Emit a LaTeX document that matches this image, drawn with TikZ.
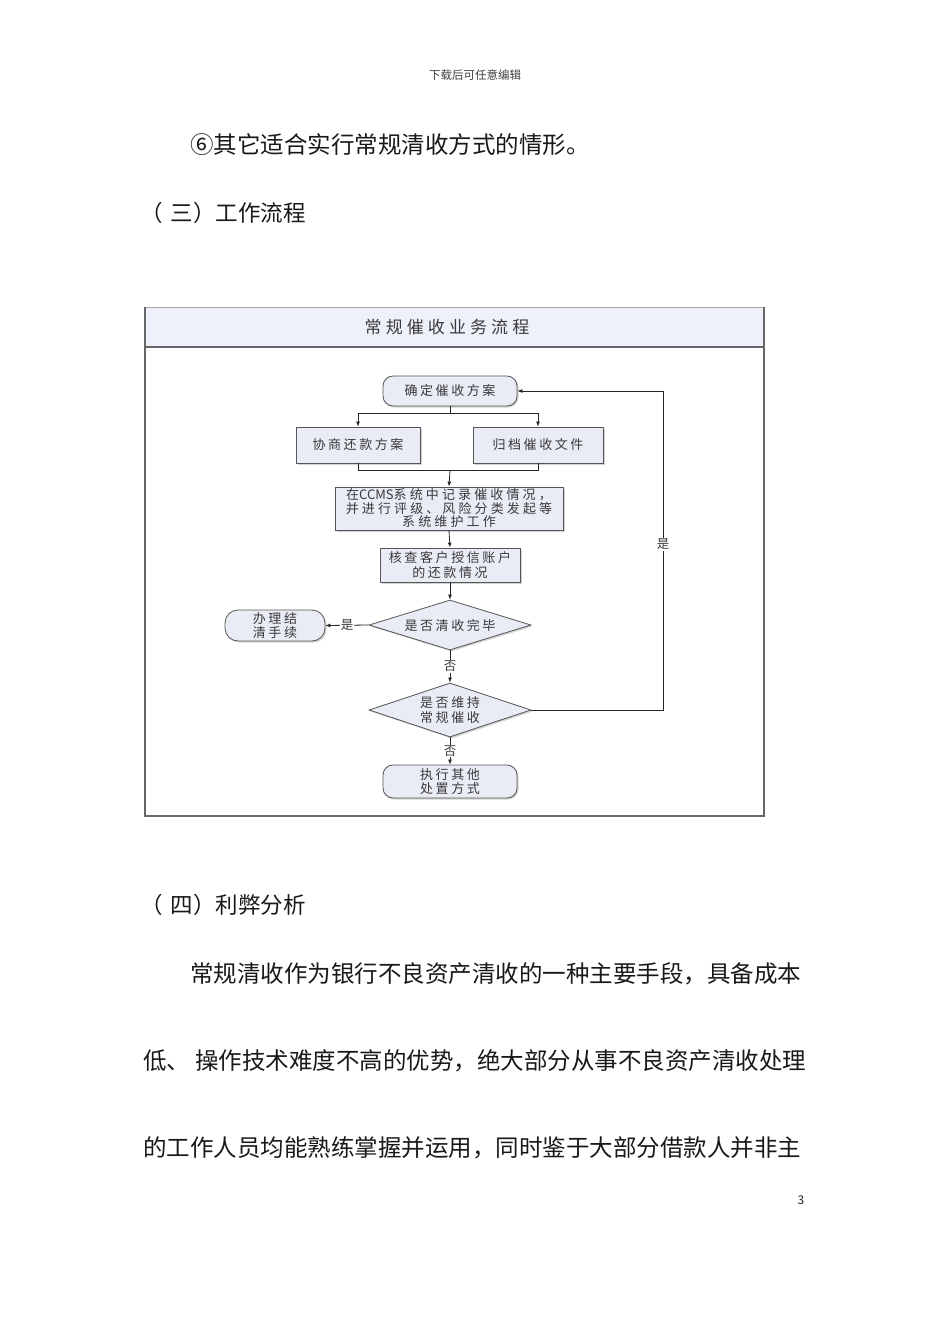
\documentclass[tikz,border=0pt]{standalone}
\usepackage{fontspec}
\setmainfont{Noto Sans CJK SC}
\newfontfamily\cjk{Noto Sans CJK SC}
\newfontfamily\dg[LetterSpace=20]{Noto Sans CJK SC}
\newfontfamily\dgw[LetterSpace=24]{Noto Sans CJK SC}
\newfontfamily\dglat{Noto Sans CJK SC}
\usetikzlibrary{shapes.geometric,arrows.meta,shadows}
\definecolor{boxfill}{HTML}{E9EBF5}
\definecolor{bandfill}{HTML}{EEF0FA}
\definecolor{boxline}{HTML}{555555}
\definecolor{dtext}{HTML}{3A3A3A}
\definecolor{frameline}{HTML}{666666}
\tikzset{
  body/.style={anchor=west, inner sep=0, font=\cjk\fontsize{23.5}{26}\selectfont, text=black!90},
  dnode/.style={draw=boxline, fill=boxfill, line width=0.8pt, align=center, inner sep=0pt,
    font=\dg\fontsize{13}{15}\selectfont, text=dtext,
    drop shadow={shadow xshift=1.5pt, shadow yshift=-1.5pt, fill=black!35}},
  sbox/.style={dnode},
  rbox/.style={dnode, rounded corners=10pt},
  dia/.style={dnode, diamond, aspect=3.2, inner sep=0pt, minimum width=162pt, minimum height=50pt},
  arr/.style={draw=black!85, line width=0.8pt, -{Latex[length=5pt,width=4pt]}},
  ln/.style={draw=black!85, line width=0.8pt},
  lab/.style={fill=white, inner sep=1pt, font=\dg\fontsize{12.5}{14}\selectfont, text=dtext}
}
\begin{document}
\begin{tikzpicture}[x=1pt,y=-1pt]
\useasboundingbox[fill=white] (0,0) rectangle (950,1344);
% page texts
\node[inner sep=0, font=\cjk\fontsize{11.5}{13}\selectfont, text=black!75] (hdr) at (475,75) {下载后可任意编辑};
\node[body] (t1) at (190,145) {⑥其它适合实行常规清收方式的情形。};
\node[body, font=\cjk\fontsize{22.5}{26}\selectfont] (t2) at (140,213) {（\kern8pt 三）工作流程};
\node[body, font=\cjk\fontsize{22.5}{26}\selectfont] (t3) at (140,905) {（\kern8pt 四）利弊分析};
\node[body] (t4) at (190,974) {常规清收作为银行不良资产清收的一种主要手段，具备成本};
\node[body] (t5) at (143,1061) {低、\hspace{5pt}操作技术难度不高的优势，绝大部分从事不良资产清收处理};
\node[body] (t6) at (143,1148) {的工作人员均能熟练掌握并运用，同时鉴于大部分借款人并非主};
\node[inner sep=0, font=\cjk\fontsize{12}{14}\selectfont, text=black!85] (pg) at (801,1200) {3};
% frame
\fill[bandfill] (145,307) rectangle (764,347);
\draw[frameline!60, line width=0.8pt] (145,307) -- (764,307);
\draw[frameline, line width=1.2pt] (145,347) -- (764,347);
\draw[frameline, line width=1.6pt] (145,307) -- (145,817);
\draw[frameline, line width=1.4pt] (764,307) -- (764,817);
\draw[frameline, line width=1.2pt] (145,816) -- (764,816);
\node[inner sep=0, font=\dgw\fontsize{17}{19}\selectfont, text=dtext] (title) at (447,327) {常规催收业务流程};
% nodes
\node[rbox, minimum width=134pt, minimum height=30pt] (top) at (450,391) {确定催收方案};
\node[sbox, minimum width=124pt, minimum height=36pt] (b1) at (358,445) {协商还款方案};
\node[sbox, minimum width=130pt, minimum height=36pt] (b2) at (538,445) {归档催收文件};
\node[sbox, minimum width=228pt, minimum height=43pt, font=\dgw\fontsize{13}{13.5}\selectfont] (ccms) at (449,508.5) {在{\dglat CCMS}系统中记录催收情况，\\并进行评级、风险分类发起等\\系统维护工作};
\node[sbox, minimum width=140pt, minimum height=34pt, font=\dg\fontsize{13}{14.5}\selectfont] (chk) at (450,565) {核查客户授信账户\\的还款情况};
\node[dia] (d1) at (450,625) {是否清收完毕};
\node[rbox, minimum width=100pt, minimum height=31pt, rounded corners=13pt, font=\dg\fontsize{13}{14.5}\selectfont] (end1) at (275,625.5) {办理结\\清手续};
\node[dia, minimum height=54pt, font=\dg\fontsize{13}{14.5}\selectfont] (d2) at (450,710) {是否维持\\常规催收};
\node[rbox, minimum width=134pt, minimum height=33pt, font=\dg\fontsize{13}{14.5}\selectfont] (end2) at (450,781.5) {执行其他\\处置方式};
% connectors
\coordinate (s1) at (450,413);
\coordinate (s2) at (450,470);
\coordinate (rt) at (663,391);
\draw[ln] (top.south) -- (s1);
\draw[arr] (s1) -| (b1.north);
\draw[arr] (s1) -| (b2.north);
\draw[ln] (b1.south) |- (s2);
\draw[ln] (b2.south) |- (s2);
\draw[arr] (s2) -- (ccms.north);
\draw[arr] (ccms.south) -- (chk.north);
\draw[arr] (chk.south) -- (d1.north);
\draw[arr] (d1.west) -- node[lab] {是} (end1.east);
\draw[arr] (d1.south) -- node[lab] {否} (d2.north);
\draw[arr] (d2.east) -| node[lab, pos=0.76] {是} (rt) -- (top.east);
\draw[arr] (d2.south) -- node[lab] {否} (end2.north);
\end{tikzpicture}
\end{document}
